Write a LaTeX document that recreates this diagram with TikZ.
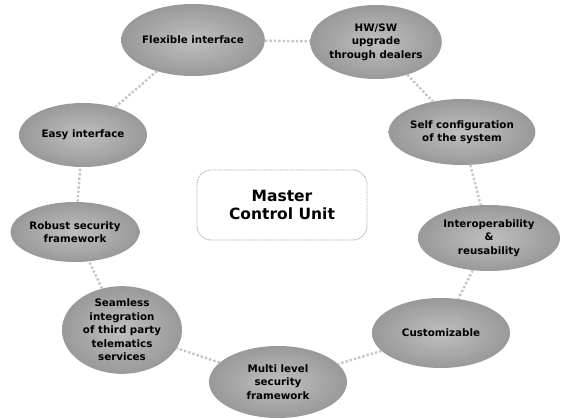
\documentclass[tikz,border=0pt]{standalone}
\usepackage{fontspec}
\setmainfont{DejaVu Sans}
\usetikzlibrary{shapes.geometric}
\begin{document}
\begin{tikzpicture}[x=1pt,y=-1pt,
  feature/.style={ellipse, inner sep=0pt, align=center,
    inner color=gray!50, outer color=gray!80,
    font=\bfseries\fontsize{10.3}{13.5}\selectfont, text=black},
  ring/.style={draw=gray!45, line width=2.4pt, dotted},
  hub/.style={draw=gray!70, dashed, dash pattern=on 1pt off 0.8pt, line width=0.8pt,
    rounded corners=14pt, minimum width=170pt, minimum height=70pt,
    align=center, font=\bfseries\fontsize{15.5}{18.5}\selectfont}]
\useasboundingbox (0,0) rectangle (566,419);

\node[hub] (mcu) at (282,205) {Master\\Control Unit};

\node[feature, minimum width=140pt, minimum height=72pt] (flex) at (193,40) {Flexible interface};
\node[feature, minimum width=116pt, minimum height=74pt] (hwsw) at (376,42) {HW/SW\\upgrade\\through dealers};
\node[feature, minimum width=124pt, minimum height=66pt] (self) at (462,132) {Self configuration\\of the system};
\node[feature, minimum width=142pt, minimum height=66pt] (inter) at (489,238) {Interoperability\\\&\\reusability};
\node[feature, minimum width=138pt, minimum height=70pt] (cust) at (441,333) {Customizable};
\node[feature, minimum width=138pt, minimum height=72pt] (multi) at (278,382) {Multi level\\security\\framework};
\node[feature, minimum width=120pt, minimum height=76pt] (seam) at (122,330) {Seamless\\integration\\of third party\\telematics\\services};
\node[feature, minimum width=126pt, minimum height=60pt] (rob) at (75,232) {Robust security\\framework};
\node[feature, minimum width=128pt, minimum height=64pt] (easy) at (83,135) {Easy interface};

\draw[ring] (flex) -- (hwsw);
\draw[ring] (hwsw) -- (self);
\draw[ring] (self) -- (inter);
\draw[ring] (inter) -- (cust);
\draw[ring] (cust) -- (multi);
\draw[ring] (multi) -- (seam);
\draw[ring] (seam) -- (rob);
\draw[ring] (rob) -- (easy);
\draw[ring] (easy) -- (flex);
\end{tikzpicture}
\end{document}
